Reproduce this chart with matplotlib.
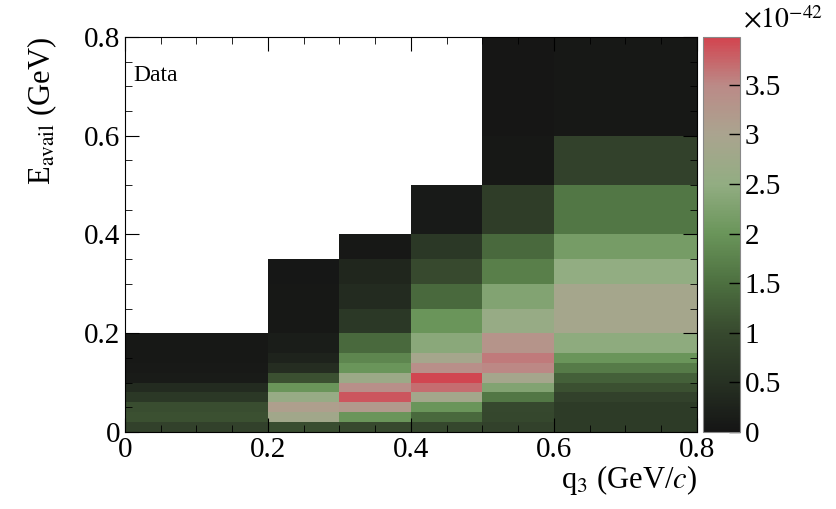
import numpy as np
import matplotlib
matplotlib.use("Agg")
import matplotlib.pyplot as plt
from matplotlib.colors import LinearSegmentedColormap
from matplotlib.ticker import MultipleLocator

plt.rcParams['font.family'] = ['Liberation Serif', 'DejaVu Serif']
plt.rcParams['mathtext.fontset'] = 'stix'

# bin edges
q3_edges = [0.0, 0.2, 0.3, 0.4, 0.5, 0.6, 0.8]
eavail_edges = [0.0, 0.02, 0.04, 0.06, 0.08, 0.10, 0.12, 0.14, 0.16,
                0.20, 0.25, 0.30, 0.35, 0.40, 0.50, 0.60, 0.80]

# cross section in units of 1e-42, one list per q3 column, from low Eavail up
col_0 = [0.85, 1.1, 1.05, 0.65, 0.4, 0.12, 0.08, 0.06, 0.05]
col_1 = [1.05, 2.8, 3.1, 2.6, 2.0, 1.1, 0.45, 0.25, 0.15, 0.06, 0.05, 0.04]
col_2 = [1.0, 2.0, 3.2, 3.85, 3.4, 2.7, 2.0, 1.8, 1.4, 0.65, 0.4, 0.3, 0.05]
col_3 = [0.95, 1.4, 2.0, 2.85, 3.7, 3.95, 3.4, 2.9, 2.4, 2.0, 1.4, 1.0, 0.65, 0.1]
col_4 = [0.85, 0.95, 0.98, 1.6, 2.3, 2.9, 3.5, 3.6, 3.3, 2.6, 2.3, 1.7, 1.4, 0.75, 0.05, 0.03]
col_5 = [0.7, 0.7, 0.7, 0.85, 1.1, 1.3, 1.65, 2.0, 2.45, 2.9, 2.9, 2.5, 2.15, 1.6, 0.85, 0.05]
columns = [col_0, col_1, col_2, col_3, col_4, col_5]

nx = len(q3_edges) - 1
ny = len(eavail_edges) - 1
z = np.full((ny, nx), np.nan)
for i, col in enumerate(columns):
    z[:len(col), i] = col
z = np.ma.masked_invalid(z)

cmap = LinearSegmentedColormap.from_list("root_gr", [
    (0.0, "#151515"),
    (0.126, "#273123"),
    (0.251, "#37492e"),
    (0.377, "#4d7040"),
    (0.503, "#6a955a"),
    (0.628, "#92ad82"),
    (0.754, "#aaa48f"),
    (0.879, "#bb8a87"),
    (1.0, "#d2444f"),
])

fig = plt.figure(figsize=(8.37, 5.09), dpi=100)
ax = fig.add_axes([0.1493, 0.1513, 0.6834, 0.776])
cax = fig.add_axes([0.840, 0.1513, 0.0442, 0.776])

mesh = ax.pcolormesh(q3_edges, eavail_edges, z, cmap=cmap, vmin=0, vmax=3.98)
ax.set_xlim(0, 0.8)
ax.set_ylim(0, 0.8)

fmt = lambda v, p: "0" if v == 0 else "%g" % v
ax.xaxis.set_major_locator(MultipleLocator(0.2))
ax.xaxis.set_minor_locator(MultipleLocator(0.05))
ax.yaxis.set_major_locator(MultipleLocator(0.2))
ax.yaxis.set_minor_locator(MultipleLocator(0.05))
ax.xaxis.set_major_formatter(fmt)
ax.yaxis.set_major_formatter(fmt)
ax.tick_params(which='both', direction='in', top=True, right=True, labelsize=21)
ax.tick_params(which='major', length=10)
ax.tick_params(which='minor', length=5)

ax.set_xlabel(r"q$_{3}$ (GeV/$c$)", fontsize=22, loc='right', labelpad=0)
ax.set_ylabel(r"E$_{\rm avail}$ (GeV)", fontsize=22, loc='top', labelpad=18)
ax.text(0.012, 0.71, "Data", fontsize=17)

cb = fig.colorbar(mesh, cax=cax)
cb.set_ticks(np.arange(0, 4.0, 0.5))
cb.ax.yaxis.set_major_formatter(fmt)
cb.ax.tick_params(direction='in', length=8, labelsize=21, width=1)
cb.outline.set_edgecolor("#888888")
fig.text(0.888, 0.945, r"$\times10^{-42}$", fontsize=20)

fig.savefig("out.png", dpi=100)
